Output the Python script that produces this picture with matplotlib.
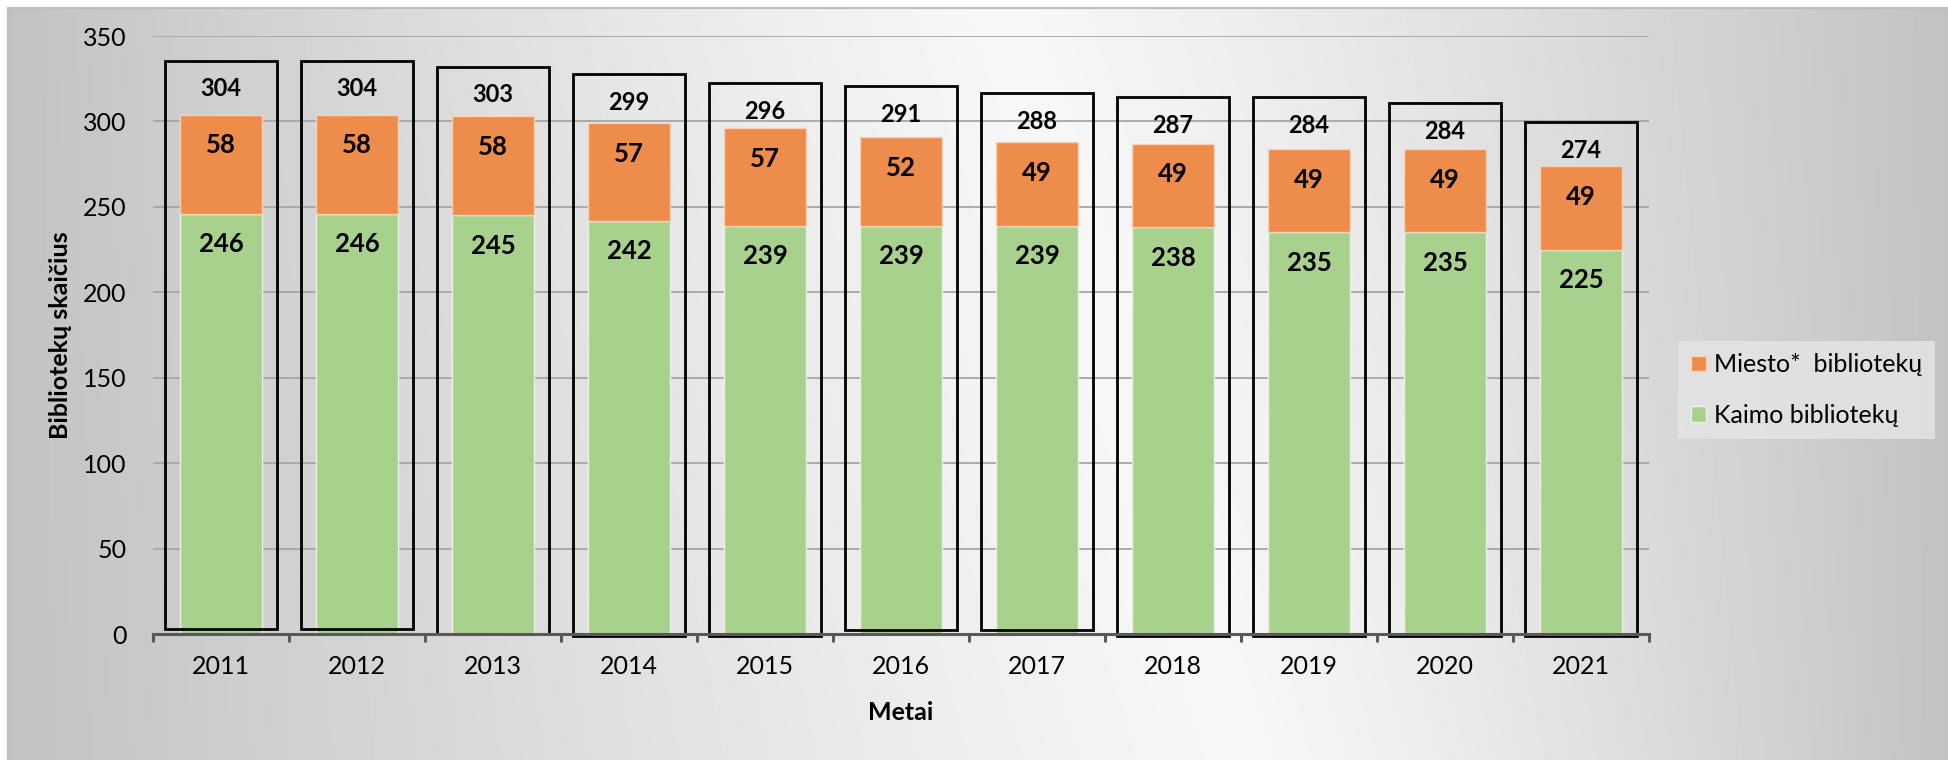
import numpy as np
import matplotlib.pyplot as plt
from matplotlib.patches import Rectangle, Patch

plt.rcParams['font.family'] = ['Lato', 'DejaVu Sans']

years = ['2011', '2012', '2013', '2014', '2015', '2016', '2017', '2018', '2019', '2020', '2021']
kaimo = [246, 246, 245, 242, 239, 239, 239, 238, 235, 235, 225]
miesto = [58, 58, 58, 57, 57, 52, 49, 49, 49, 49, 49]
totals = [304, 304, 303, 299, 296, 291, 288, 287, 284, 284, 274]
# hand drawn frames around each column (top / bottom in axis units)
box_tops = [335.5, 335.5, 332, 327.5, 322.5, 320.7, 316.6, 314.3, 314.3, 310.8, 299.7]
box_bottoms = [3, 3, 0, -1, -1, 2.5, 2.5, -1, -1, -1, -1]

W, H = 1948, 760
fig = plt.figure(figsize=(W / 100, H / 100), dpi=100, facecolor='white')

# grey gradient background
bg = fig.add_axes([8 / W, 0, 1 - 8 / W, 1 - 8 / H], zorder=-10)
xx, yy = np.meshgrid(np.arange(8, W), np.arange(8, H))
xc = 1000 + 250 * yy / H
s = np.where(xx < xc, (xc - xx) / (xc - 8), (xx - xc) / (W - xc))
val = 247 - 53 * np.clip(s, 0, 1) ** 1.2
bg.imshow(val, cmap='gray', vmin=0, vmax=255, aspect='auto', interpolation='bilinear')
bg.set_xticks([])
bg.set_yticks([])
for side in ['right', 'bottom']:
    bg.spines[side].set_visible(False)
for side in ['top', 'left']:
    bg.spines[side].set_color('#bdbdbd')
    bg.spines[side].set_linewidth(1.5)

ax = fig.add_axes([153 / W, 1 - 634 / H, (1649 - 153) / W, (634 - 36) / H])
ax.set_facecolor('none')

x = np.arange(len(years))
ax.bar(x, kaimo, width=0.6, color='#A9D18E', edgecolor='#e8f3e0', linewidth=1, zorder=3,
       label='Kaimo bibliotekų')
ax.bar(x, miesto, width=0.6, bottom=kaimo, color='#EE8C4B', edgecolor='#f8d2b8', linewidth=1,
       zorder=3, label='Miesto*  bibliotekų')

for i in range(len(years)):
    ax.add_patch(Rectangle((i - 0.415, box_bottoms[i]), 0.83, box_tops[i] - box_bottoms[i],
                           fill=False, edgecolor='black', linewidth=2, zorder=4, clip_on=False))
    ax.text(i, kaimo[i] - 18, str(kaimo[i]), ha='center', va='center', fontsize=18.5,
            fontweight='bold', zorder=5)
    ax.text(i, kaimo[i] + miesto[i] - 18, str(miesto[i]), ha='center', va='center', fontsize=18.5,
            fontweight='bold', zorder=5)
    ax.text(i, box_tops[i] - 16.5, str(totals[i]), ha='center', va='center', fontsize=17,
            fontweight='bold', zorder=5)

ax.set_xlim(-0.5, len(years) - 0.5)
ax.set_ylim(0, 350)
ax.set_yticks(np.arange(0, 351, 50))
ax.tick_params(axis='y', length=0, pad=19, labelsize=18)
ax.yaxis.grid(True, color='#a6a6a6', linewidth=1.3, zorder=0)
ax.set_axisbelow(True)

ax.set_xticks(np.arange(-0.5, len(years), 1))
ax.set_xticklabels([])
ax.set_xticks(x, minor=True)
ax.set_xticklabels(years, minor=True)
ax.tick_params(axis='x', which='major', length=6, width=2.2, color='#595959')
ax.tick_params(axis='x', which='minor', length=0, pad=15, labelsize=18)

for side in ['left', 'top', 'right']:
    ax.spines[side].set_visible(False)
ax.spines['bottom'].set_color('#595959')
ax.spines['bottom'].set_linewidth(2.2)
ax.spines['bottom'].set_zorder(6)

fig.text(60 / W, 1 - 335 / H, 'Bibliotekų skaičius', rotation=90, ha='center', va='center',
         fontsize=18, fontweight='bold')
fig.text((153 + 1649) / 2 / W, 1 - 713 / H, 'Metai', ha='center', va='center',
         fontsize=18, fontweight='bold')

handles = [Patch(facecolor='#EE8C4B', edgecolor='#f8d2b8'),
           Patch(facecolor='#A9D18E', edgecolor='#e8f3e0')]
leg = fig.legend(handles, ['Miesto*  bibliotekų', 'Kaimo bibliotekų'],
                 loc='center left', bbox_to_anchor=(1678 / W, 1 - 390 / H),
                 fontsize=18, frameon=True, fancybox=False, facecolor='#e4e4e4',
                 edgecolor='none', framealpha=0.85, handlelength=0.6, handleheight=0.6,
                 handletextpad=0.35, borderpad=0.5, borderaxespad=0, labelspacing=1.1)

fig.savefig('out.png', dpi=100, facecolor='white')
